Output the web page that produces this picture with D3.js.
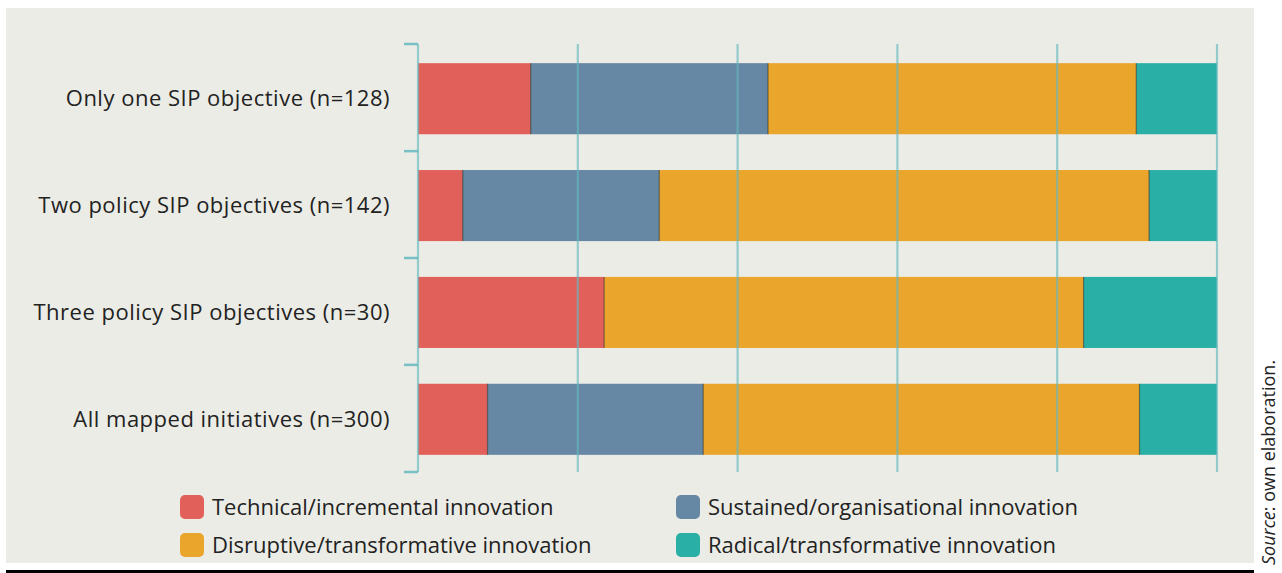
<!DOCTYPE html>
<html lang="en">
<head>
<meta charset="UTF-8">
<title>SIP objectives</title>
<script src="https://cdn.jsdelivr.net/npm/d3@7"></script>
<style>
  body { margin: 0; background: #fff; }
  text { font-family: "Open Sans", "DejaVu Sans", sans-serif; fill: #222; }
</style>
</head>
<body>
<svg id="mainsvg" width="1282" height="573"></svg>
<script>
    // data (shares in %)
    const categories = ["Only one SIP objective (n=128)", "Two policy SIP objectives (n=142)", "Three policy SIP objectives (n=30)", "All mapped initiatives (n=300)"];
    const seriesNames = ["Technical/incremental innovation", "Sustained/organisational innovation", "Disruptive/transformative innovation", "Radical/transformative innovation"];
    const technical = [14.1, 5.6, 23.3, 8.7];
    const sustained = [29.7, 24.6, 0, 27.0];
    const disruptive = [46.1, 61.3, 60.0, 54.6];
    const radical = [10.1, 8.5, 16.7, 9.7];
    const gridTicks = [0, 20, 40, 60, 80, 100];

    const colors = ["#e2605a", "#6688a4", "#eaa52c", "#2aafa6"];

    const svg = d3.select("#mainsvg");
    svg.append("rect").attr("x", 6).attr("y", 8).attr("width", 1248).attr("height", 555).attr("fill", "#ecece6");
    svg.append("rect").attr("x", 6).attr("y", 570).attr("width", 1248).attr("height", 3).attr("fill", "#000");

    const x = d3.scaleLinear().domain([0, 100]).range([418, 1217]);
    const y = d3.scaleBand().domain(categories).range([44, 472]).paddingInner(0.335).paddingOuter(0.17);

    const rows = categories.map((c, i) => ({ cat: c, vals: [technical[i], sustained[i], disruptive[i], radical[i]] }));
    const stack = d3.stack().keys([0, 1, 2, 3]).value((d, k) => d.vals[k]);
    const layers = stack(rows);

    const g = svg.append("g");
    g.selectAll("g.layer")
        .data(layers)
        .join("g")
        .attr("class", "layer")
        .attr("fill", (d, i) => colors[i])
        .selectAll("rect")
        .data(d => d)
        .join("rect")
        .attr("x", d => x(d[0]))
        .attr("y", d => y(d.data.cat) + 1)
        .attr("width", d => Math.max(0, x(d[1]) - x(d[0])))
        .attr("height", y.bandwidth());

    // thin dark separators between segments
    layers.slice(1).forEach(layer => {
        g.selectAll(null)
            .data(layer.filter(d => d[1] > d[0]))
            .join("line")
            .attr("x1", d => x(d[0])).attr("x2", d => x(d[0]))
            .attr("y1", d => y(d.data.cat) + 1).attr("y2", d => y(d.data.cat) + 1 + y.bandwidth())
            .attr("stroke", "rgba(40,40,30,0.55)")
            .attr("stroke-width", 1.2);
    });

    // gridlines on top
    svg.append("g").selectAll("line")
        .data(gridTicks)
        .join("line")
        .attr("x1", d => x(d)).attr("x2", d => x(d))
        .attr("y1", 44).attr("y2", 472)
        .attr("stroke", "rgba(100,185,190,0.65)")
        .attr("stroke-width", 2.2);

    // band boundary ticks on the left axis
    const bounds = [44].concat(categories.map(c => y(c) + y.bandwidth() + y.step() * y.paddingInner() / 2));
    bounds[bounds.length - 1] = 472;
    svg.append("g").selectAll("line")
        .data(bounds)
        .join("line")
        .attr("x1", 404).attr("x2", 418)
        .attr("y1", d => d).attr("y2", d => d)
        .attr("stroke", "rgba(100,185,190,0.85)")
        .attr("stroke-width", 2.5);

    // category labels
    svg.append("g").selectAll("text")
        .data(categories)
        .join("text")
        .attr("x", 390)
        .attr("y", d => y(d) + y.bandwidth() / 2 + 1)
        .attr("dy", "0.35em")
        .attr("text-anchor", "end")
        .attr("font-size", 22)
        .attr("letter-spacing", 0.5)
        .text(d => d);

    // legend
    const legendPos = [[180, 507], [676, 507], [180, 545], [676, 545]];
    const leg = svg.append("g").selectAll("g")
        .data(seriesNames)
        .join("g")
        .attr("transform", (d, i) => `translate(${legendPos[i][0]}, ${legendPos[i][1]})`);
    leg.append("rect")
        .attr("x", 0).attr("y", -12).attr("width", 24).attr("height", 24).attr("rx", 5)
        .attr("fill", (d, i) => colors[i]);
    leg.append("text")
        .attr("x", 32).attr("dy", "0.35em")
        .attr("font-size", 22)
        .text(d => d);

    // source
    const src = svg.append("text")
        .attr("transform", "translate(1275, 565) rotate(-90)")
        .attr("font-size", 18);
    src.append("tspan").attr("font-style", "italic").text("Source");
    src.append("tspan").text(": own elaboration.");
</script>
</body>
</html>
